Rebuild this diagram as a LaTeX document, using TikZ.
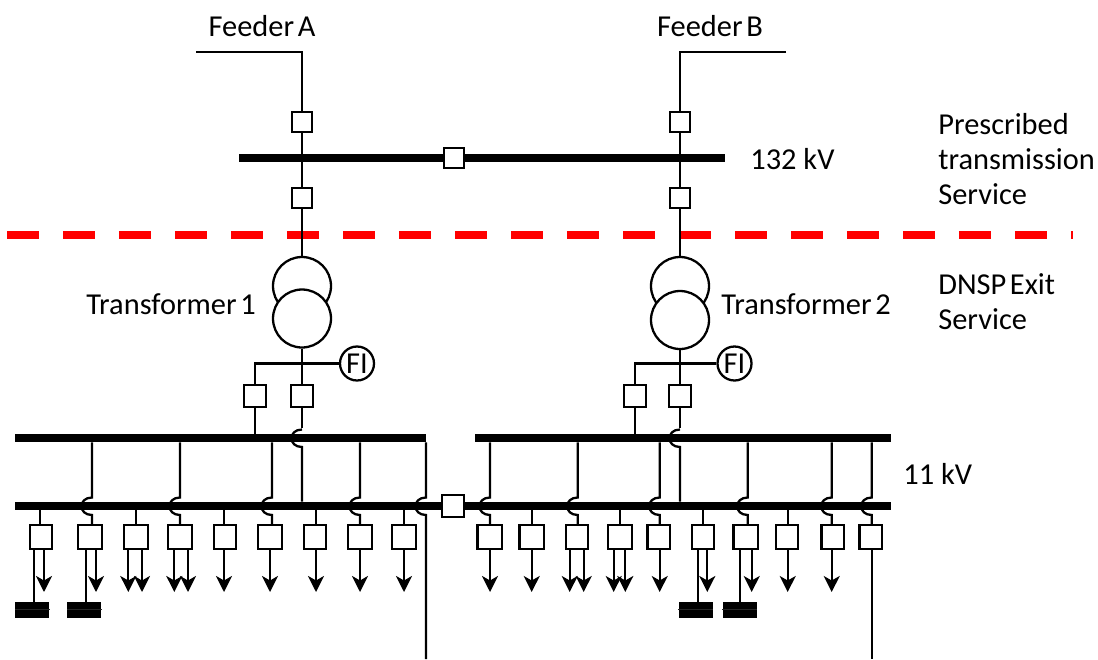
\documentclass[tikz,border=0pt]{standalone}
\usepackage{fontspec}
\setmainfont{Carlito}
\usetikzlibrary{arrows.meta,calc}
\tikzset{
  wire/.style={line width=1.3pt,black},
  load/.style={wire,-{Stealth[length=0.32cm,width=0.32cm,inset=0.09cm]}},
  bus/.style={fill=black,inner sep=0,minimum height=0.16cm,anchor=west},
  brk/.style={draw,wire,fill=white,inner sep=0,minimum size=0.4cm},
  brkm/.style={brk,minimum size=0.44cm},
  brkw/.style={brk,minimum width=0.49cm,minimum height=0.48cm},
  brkn/.style={brk,minimum width=0.45cm,minimum height=0.48cm},
  winding/.style={draw,wire,fill=white,circle,inner sep=0,minimum size=1.16cm},
  fi/.style={draw,wire,fill=white,circle,inner sep=0,minimum size=0.68cm},
  batt/.style={fill=black,inner sep=0,minimum width=0.68cm,minimum height=0.32cm},
  lbl/.style={font=\fontsize{17.3}{19.8}\selectfont,inner sep=0}
}
\begin{document}
\begin{tikzpicture}[x=0.02cm,y=-0.02cm]
\useasboundingbox (0,0) rectangle (1098,659);
\coordinate (demL) at (7,234.5);
\coordinate (demR) at (1073,234.5);
\draw[red,line width=0.16cm,dash pattern=on 0.64cm off 0.48cm] (demL) -- (demR); % boundary

\node[lbl] (feedA) at (262,26) {Feeder\hspace{0.12em}A};
\node[lbl] (feedB) at (710,26) {Feeder\hspace{0.12em}B};
\node[lbl,anchor=west] (kv132) at (750,159) {132 kV};
\node[lbl,anchor=west] (kv11) at (903,474) {11 kV};
\node[lbl,anchor=west,align=left] (svcT) at (938,159) {Prescribed\\transmission\\Service};
\node[lbl,anchor=west,align=left] (svcD) at (938,302) {DNSP\hspace{0.12em}Exit\\Service};
\node[lbl] (nameA) at (171,304) {Transformer\hspace{0.12em}1};
\node[lbl] (nameB) at (806,304) {Transformer\hspace{0.12em}2};

% buses
\node[bus,minimum width=9.72cm] (hv) at (239,158) {};
\node[bus,minimum width=8.22cm] (upA) at (15,438) {};
\node[bus,minimum width=8.54cm] (loA) at (15,506) {};
\node[bus,minimum width=8.32cm] (upB) at (475,438) {};
\node[bus,minimum width=8.54cm] (loB) at (464,506) {};
\node[brk] (tie) at (454,158) {};
\node[brkm] (coup) at (453,506) {};

% the two incomers
\foreach \s/\x/\w/\yb/\yfi/\xl/\xf in {A/302/196/318.5/363.5/255/357,B/680/786/320/363.5/635/734.5}{
  \coordinate (end\s) at (\w,52);
  \node[brk] (in\s) at (\x,122) {};
  \node[brk] (out\s) at (\x,198) {};
  \node[winding] (tp\s) at (\x,286) {};
  \draw[wire] (end\s) -| (in\s.north);
  \draw[wire] (in\s.south) -- (out\s.north);
  \draw[wire] (out\s.south) -- (tp\s.north);
  \node[winding] (tb\s) at (\x,\yb) {};
  \node[fi] (fi\s) at (\xf,\yfi) {\fontsize{17.3}{19}\selectfont FI};
  \node[brkm] (cbL\s) at (\xl,396) {};
  \node[brkm] (cbR\s) at (\x,396) {};
  \draw[wire] (tb\s.south) -- (cbR\s.north);
  \draw[wire] (cbL\s.north) |- (fi\s.west);
  \draw[wire] (cbL\s.south) -- (cbL\s.south |- up\s.north);
  \coordinate (hp) at (up\s.center -| \x,0);
  \draw[wire] (cbR\s.south) -- ($(hp)+(0,-10.5)$);
  \draw[wire] ($(hp)+(0,-8.5)$) .. controls +(-14,0) and +(-14,0) .. ($(hp)+(0,9)$) -- (lo\s.north -| hp);
}

% outgoing feeders
\foreach \n/\x/\t in {a1/41/brkn,a2/90/brkw,a3/136/brkw,a4/180/brkw,a5/225/brkn,a6/270/brkw,a7/315/brkn,a8/360/brkw,a9/404/brkw,
    b1/489.7/brkw,b2/531.7/brkw,b3/577/brkn,b4/620/brkw,b5/658.7/brkn,b6/703/brkn,b7/745.7/brkw,b8/787/brkn,b9/832.7/brkn,b10/870.7/brkn}{
  \node[\t] (\n) at (\x,537) {};
}
\coordinate (tailA) at (426,659);
\coordinate (tailB) at (871.7,659);

% direct stubs
\foreach \b/\n/\x in {loA/a1/40,loA/a3/136,loA/a5/224,loA/a7/316,loA/a9/404,loB/b2/531.7,loB/b4/619.7,loB/b6/703.3,loB/b8/787.7}{
  \coordinate (st) at (\x,537);
  \draw[wire] (\b.south -| st) -- (\n.north -| st);
}
% stubs from the upper bus, hopping over the lower one
\foreach \u/\l/\n/\x in {upA/loA/a2/92,upA/loA/a4/180,upA/loA/a6/272,upA/loA/a8/360,upB/loB/b1/490,upB/loB/b3/577.7,upB/loB/b5/659.7,upB/loB/b7/747.7,upB/loB/b9/831.7,upB/loB/b10/871.7,upA/loA/tailA/426}{
  \coordinate (hp) at (\l.center -| \x,0);
  \draw[wire] (\u.south -| hp) -- ($(hp)+(0,-8.5)$) .. controls +(-14,0) and +(-14,0) .. ($(hp)+(0,9)$) -- (\n.north -| hp);
}
\draw[wire] (b10.south -| tailB) -- (tailB);

% loads
\foreach \n/\x in {a1/44,a2/96,a3/128.3,a3/142,a4/174.3,a4/188,a5/224,a6/270,a7/316,a8/360,a9/404,
    b1/490,b2/531.7,b3/569.7,b3/583.7,b4/613.7,b4/625.3,b5/659.7,b6/707.3,b7/751.7,b8/787.7,b9/831.7}{
  \coordinate (tip) at (\x,592);
  \draw[load] (\n.south -| tip) -- (tip);
}
% capacitor banks
\foreach \c/\n/\x/\cx in {c1/a1/34.3/32.3,c2/a2/86/84.3,c3/b6/697.7/695.8,c4/b7/739.7/739.7}{
  \node[batt] (\c) at (\cx,609.7) {};
  \coordinate (drop) at (\x,601.7);
  \draw[wire] (\n.south -| drop) -- (drop);
  \draw[black!85!white,line width=0.3pt] (\c.west) -- (\c.east);
}
\end{tikzpicture}
\end{document}
